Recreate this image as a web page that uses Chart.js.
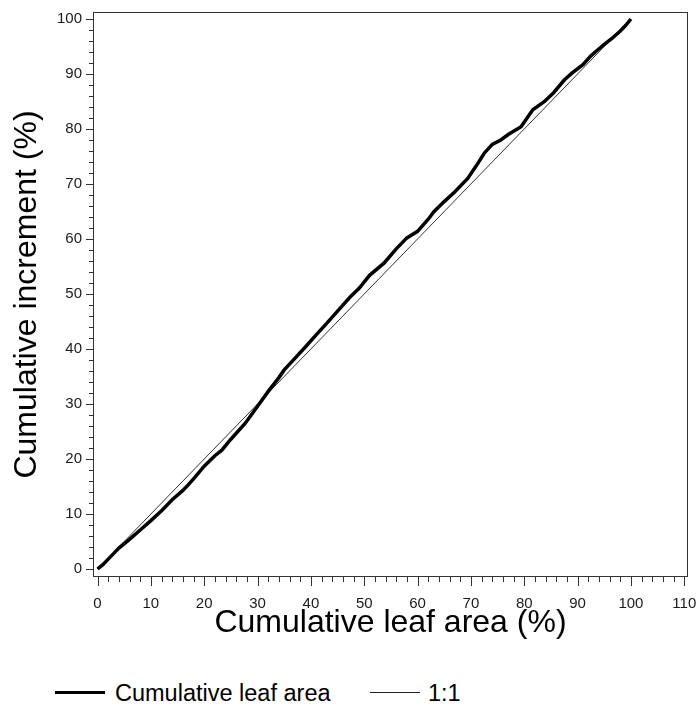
<!DOCTYPE html>
<html>
<head>
<meta charset="utf-8">
<script src="https://cdn.jsdelivr.net/npm/chart.js@4"></script>
<style>
  html, body { margin: 0; padding: 0; background: #fff; }
  #wrap { position: relative; width: 696px; height: 709px; font-family: "Liberation Sans", Arial, sans-serif; }
  #box { position: absolute; left: 0; top: 0; width: 696px; height: 660px; }
  .lg-line { position: absolute; background: #000; }
  .lg-text { position: absolute; font-size: 23.5px; color: #000; line-height: 24px; }
</style>
</head>
<body>
<div id="wrap">
  <div id="box"><canvas id="chart"></canvas></div>
  <div class="lg-line" style="left:55px; top:691px; width:50px; height:3px;"></div>
  <div class="lg-text" style="left:115px; top:681px;">Cumulative leaf area</div>
  <div class="lg-line" style="left:370px; top:692px; width:50px; height:1px; background:#222;"></div>
  <div class="lg-text" style="left:428px; top:681px;">1:1</div>
</div>
<script>
// Đường tích lũy
const leafArea = [0, 1, 2, 3, 4, 6, 8, 10, 12, 14, 16, 17, 18, 20, 22, 23.3, 25, 27.7, 30, 32, 34, 35, 37, 39, 41.2, 43, 45, 47.4, 49, 51, 53.7, 56, 58, 60, 62, 63.1, 65, 67, 69.4, 71, 72.5, 74, 75.6, 77, 79.4, 81.6, 83.8, 85.5, 87.5, 89, 91, 92.5, 93.8, 95, 96.5, 98, 99, 100];
const increment = [0, 0.8, 1.8, 2.8, 3.8, 5.4, 7.1, 8.8, 10.6, 12.6, 14.3, 15.3, 16.4, 18.7, 20.6, 21.6, 23.6, 26.5, 29.6, 32.3, 34.8, 36.2, 38.3, 40.4, 42.8, 44.7, 46.9, 49.5, 51.0, 53.4, 55.6, 58.2, 60.2, 61.4, 63.6, 65.0, 66.8, 68.6, 71.0, 73.3, 75.6, 77.2, 78.0, 79.0, 80.4, 83.5, 85.0, 86.6, 88.9, 90.2, 91.7, 93.3, 94.4, 95.4, 96.5, 97.8, 98.8, 100];
const oneToOneX = [0, 100];
const oneToOneY = [0, 100];

const xTitle = 'Cumulative leaf area (%)';
const yTitle = 'Cumulative increment (%)';

// Khung + vạch chia chính/phụ
const frameTicksPlugin = {
    id: 'frameTicks',
    afterDraw(chart) {
        const ctx = chart.ctx;
        const a = chart.chartArea;
        const xs = chart.scales.x, ys = chart.scales.y;
        ctx.save();
        ctx.strokeStyle = '#333';
        ctx.lineWidth = 1;
        ctx.strokeRect(Math.round(a.left) + 0.5, Math.round(a.top) + 0.5, Math.round(a.right - a.left) - 1, Math.round(a.bottom - a.top) - 1);
        ctx.beginPath();
        for (let v = 0; v <= 110; v += 2) {
            const px = Math.round(xs.getPixelForValue(v)) + 0.5;
            const len = v % 10 === 0 ? 9 : 5;
            ctx.moveTo(px, a.bottom);
            ctx.lineTo(px, a.bottom + len);
        }
        for (let v = 0; v <= 100; v += 2) {
            const py = Math.round(ys.getPixelForValue(v)) + 0.5;
            const len = v % 10 === 0 ? 7 : 4;
            ctx.moveTo(a.left, py);
            ctx.lineTo(a.left - len, py);
        }
        ctx.stroke();
        ctx.restore();
    }
};

const tickFont = { family: '"Liberation Sans", Arial, sans-serif', size: 15 };
const titleFont = { family: '"Liberation Sans", Arial, sans-serif', size: 32 };

new Chart(document.getElementById('chart'), {
    type: 'line',
    data: {
        datasets: [
            {
                label: 'Cumulative leaf area',
                data: leafArea.map((x, i) => ({ x: x, y: increment[i] })),
                borderColor: '#000', borderWidth: 3.5, pointRadius: 0, tension: 0, fill: false
            },
            {
                label: '1:1',
                data: oneToOneX.map((x, i) => ({ x: x, y: oneToOneY[i] })),
                borderColor: '#333', borderWidth: 1, pointRadius: 0, tension: 0, fill: false
            }
        ]
    },
    options: {
        responsive: true,
        maintainAspectRatio: false,
        animation: false,
        layout: { padding: { left: 0, top: 12, right: 8, bottom: 0 } },
        plugins: { legend: { display: false }, tooltip: { enabled: false } },
        scales: {
            x: {
                type: 'linear', min: -0.85, max: 110.7,
                grid: { display: false, drawTicks: false },
                border: { display: false },
                ticks: { stepSize: 10, includeBounds: false, autoSkip: false, maxRotation: 0, padding: 18, color: '#1a1a1a', font: tickFont },
                title: { display: true, text: xTitle, color: '#000', font: titleFont, padding: { top: 0, bottom: 18 } },
                afterFit(scale) { scale.height = 83; scale.paddingLeft = 0; scale.paddingRight = 0; }
            },
            y: {
                type: 'linear', min: -1.45, max: 101.27,
                grid: { display: false, drawTicks: false },
                border: { display: false },
                ticks: { stepSize: 10, includeBounds: false, autoSkip: false, padding: 11, color: '#1a1a1a', font: tickFont },
                title: { display: true, text: yTitle, color: '#000', font: titleFont, padding: { top: 8.3, bottom: 0 } },
                afterFit(scale) { scale.width = 93; scale.paddingTop = 0; scale.paddingBottom = 0; }
            }
        }
    },
    plugins: [frameTicksPlugin]
});
</script>
</body>
</html>
